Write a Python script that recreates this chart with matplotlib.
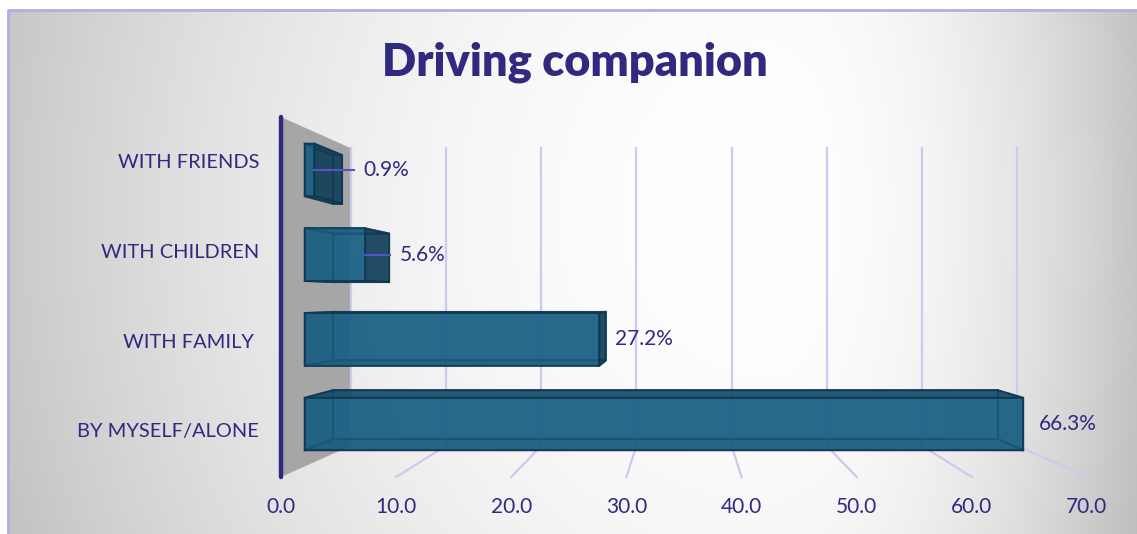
import numpy as np
import matplotlib.pyplot as plt
from matplotlib.patches import Polygon

# survey answers, bottom row first
categories = ['BY MYSELF/ALONE', 'WITH FAMILY ', 'WITH CHILDREN', 'WITH FRIENDS']
shares = [66.3, 27.2, 5.6, 0.9]
ticks = [0, 10, 20, 30, 40, 50, 60, 70]
label_nudge = [16, 16, 34, 49]   # px right of the bar end, small bars get a leader line

W, H = 1137, 534
TXT = '#2f2a80'
GRID = '#cdc9ef'

plt.rcParams['font.family'] = ['Lato', 'DejaVu Sans']

fig = plt.figure(figsize=(W / 100, H / 100), dpi=100)

# background: soft radial light spot, grey towards the edges
bg = fig.add_axes([0, 0, 1, 1])
bg.set_xlim(0, W)
bg.set_ylim(H, 0)
bg.axis('off')
xx, yy = np.meshgrid(np.arange(W), np.arange(H))
cx, cy = 770, 210
dx = xx - cx
rx = np.where(dx < 0, 800.0, 370.0)
t = np.sqrt((dx / rx) ** 2 + ((yy - cy) / 900.0) ** 2)
g = 1 - 0.23 * np.clip(t, 0, 1.1) ** 2
g[:10, :] = 1
g[:, :8] = 1
bg.imshow(np.dstack([g, g, g]), extent=(0, W, H, 0), zorder=0)
bg.plot([8, 8, W], [H, 10, 10], color='#b3acec', lw=2, zorder=1)

# chart axes: x in percent, y in category rows (front plane)
ax = fig.add_axes([0, 0, 1, 1])
ax.patch.set_alpha(0)
ax.axis('off')
ax.set_xlim(-281 / 11.514, (W - 281) / 11.514)
ax.set_ylim(-0.5 - 57 / 90, -0.5 + 477 / 90)

VX, VY = 35.0, 1.5          # vanishing point
Z_WALL = 0.209              # depth of back wall
ZF, ZB = 0.0622, 0.1485     # bar front / back depth
HALF = 0.31                 # half bar height
Y0, Y1 = -0.5, 3.5


def proj(v, y, z):
    s = 1.0 / (1.0 + z)
    return (VX + (v - VX) * s, VY + (y - VY) * s)


# side wall and back wall gridlines
wall = [proj(0, Y0, 0), proj(0, Y1, 0), proj(0, Y1, Z_WALL), proj(0, Y0, Z_WALL)]
ax.add_patch(Polygon(wall, closed=True, fc='#a6a6a6', ec='none', zorder=2))
for v in ticks:
    p0, p1 = proj(v, Y0, Z_WALL), proj(v, Y1, Z_WALL)
    ax.plot([p0[0], p1[0]], [p0[1], p1[1]], color=GRID, lw=1.6, zorder=3)
    if v > 0:
        f0 = proj(v, Y0, 0)
        ax.plot([p0[0], f0[0]], [p0[1], f0[1]], color=GRID, lw=1.6, zorder=3)
    fx, fy = proj(v, Y0, 0)
    ax.text(fx, fy - 30 / 90, f'{v:.1f}', color=TXT, fontsize=15,
            ha='center', va='center', zorder=10)

# left axis line
a0, a1 = proj(0, Y0, 0), proj(0, Y1, 0)
ax.plot([a0[0], a1[0]], [a0[1], a1[1]], color='#2e2a84', lw=3.2,
        solid_capstyle='round', zorder=9)


def face(pts, fc, z):
    ax.add_patch(Polygon([proj(*p) for p in pts], closed=True, fc=fc,
                         ec='#0c3550', lw=1.4, alpha=0.75, zorder=z))


for i, (cat, val) in enumerate(zip(categories, shares)):
    lo, hi = i - HALF, i + HALF
    face([(0, lo, ZB), (val, lo, ZB), (val, hi, ZB), (0, hi, ZB)], '#1a6084', 4)
    face([(0, lo, ZF), (0, hi, ZF), (0, hi, ZB), (0, lo, ZB)], '#185a7c', 4)
    face([(val, lo, ZF), (val, hi, ZF), (val, hi, ZB), (val, lo, ZB)],
         '#143a52' if val < VX else '#1a5676', 5 if val < VX else 4)
    yf = hi if hi < VY else lo
    yh = lo if hi < VY else hi
    face([(0, yh, ZF), (val, yh, ZF), (val, yh, ZB), (0, yh, ZB)], '#154b68', 4)
    face([(0, yf, ZF), (val, yf, ZF), (val, yf, ZB), (0, yf, ZB)], '#154b68', 5)
    face([(0, lo, ZF), (val, lo, ZF), (val, hi, ZF), (0, hi, ZF)], '#1a6084', 6)

    ex, ey = proj(val, i, ZF)
    lx = ex + label_nudge[i] / 11.514
    if label_nudge[i] > 20:
        ax.plot([ex, lx - 9 / 11.514], [ey, ey], color='#5a52c4', lw=1.5, zorder=7)
    ax.text(lx, ey, f'{val}%', color=TXT, fontsize=15, ha='left', va='center', zorder=10)

    cx0, cy0 = proj(0, i, 0)
    ax.text(cx0 - 22 / 11.514, cy0, cat, color=TXT, fontsize=14.4,
            ha='right', va='center', zorder=10)

fig.text(575 / W, 1 - 62 / H, 'Driving companion', color=TXT, fontsize=32.5,
         fontweight='heavy', ha='center', va='center')

fig.savefig('out.png', dpi=100)
